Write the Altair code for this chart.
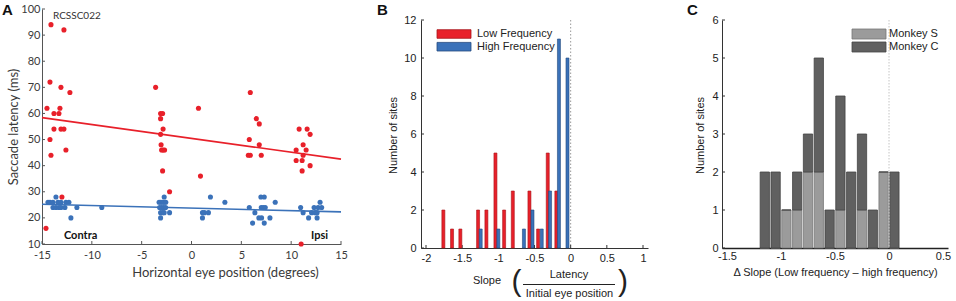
import altair as alt
import pandas as pd

# ---------------- Panel A data ----------------
low_x = [-14.1, -12.8, -14.2, -13.1, -12.2, -14.5, -13.2, -13.8, -13.3, -13.8, -13.1, -12.8,
         -14.2, -14.1, -12.6, -13.0, -14.6,
         -3.6, -3.1, -2.9, -3.1, -2.85, -3.1, -3.05, -3.0, -2.85, -2.7, -2.9, -2.2, 0.7, 0.9,
         5.9, 6.5, 6.8, 5.8, 6.8, 5.7, 5.9, 7.0,
         10.8, 11.6, 11.9, 11.2, 11.5, 10.5, 11.2, 10.5, 11.1, 11.9, 11.1, 11.0]
low_y = [94, 92, 72, 70, 68, 62, 62, 60, 60, 54, 54, 54,
         50, 44, 46, 28, 16,
         70, 60, 60, 58, 54, 52, 48, 46, 46, 46, 38, 30, 62, 36,
         68, 58, 56, 50, 48, 44, 44, 44,
         54, 54, 52, 48, 46, 46, 44, 42, 42, 40, 38, 10]
high_x = [-13.6, -14.4, -14.2, -13.9, -13.4, -13.1, -12.6, -12.3,
          -13.9, -13.6, -13.3, -13.1, -12.7, -11.5, -9.0, -12.1,
          -2.74, -3.25, -3.08, -2.9, -2.74, -2.58, -3.2, -3.0, -2.8, -2.6,
          -3.1, -2.9, -2.74, -2.2, -3.1,
          1.9, 3.35, 1.1, 1.3, 1.7, 1.1,
          6.96, 7.3, 8.4, 5.8, 7.0, 7.2, 7.4, 6.36, 6.76, 7.03, 7.87, 6.13, 7.3,
          12.9, 10.95, 12.3, 12.7, 13.06, 11.2, 12.05, 12.4, 12.6, 11.75, 12.6]
high_y = [28, 26, 26, 26, 26, 26, 26, 26,
          24, 24, 24, 24, 24, 24, 24, 20,
          28, 26, 26, 26, 26, 26, 24, 24, 24, 24,
          22, 22, 22, 22, 20,
          28, 26, 22, 22, 22, 20,
          28, 28, 26, 24, 24, 24, 24, 22, 20, 20, 20, 18, 18,
          26, 24, 24, 24, 24, 22, 22, 22, 22, 20, 20]
fit_x = [-15, 15]
low_fit = [58.4, 42.5]
high_fit = [25.2, 22.3]
a_xticks = [-15, -10, -5, 0, 5, 10, 15]
a_yticks = [10, 20, 30, 40, 50, 60, 70, 80, 90, 100]
a_notes = ["RCSSC022", "Contra", "Ipsi"]
a_notes_x = [-13.9, -12.8, 12.0]
a_notes_y = [97.4, 12.9, 12.9]

# ---------------- Panel B data ----------------
b_low_centers = [-1.76, -1.64, -1.525, -1.28, -1.165, -1.04, -0.92, -0.80, -0.57, -0.45, -0.317, -0.198]
b_low_counts = [2, 1, 1, 2, 2, 5, 2, 3, 3, 1, 5, 3]
b_high_centers = [-1.244, -1.0, -0.646, -0.528, -0.40, -0.285, -0.162, -0.044]
b_high_counts = [1, 1, 1, 2, 1, 3, 11, 10]
b_xticks = [-2, -1.5, -1, -0.5, 0, 0.5, 1]
b_yticks = [0, 2, 4, 6, 8, 10, 12]
b_legend = ["Low Frequency", "High Frequency"]

# ---------------- Panel C data ----------------
c_centers = [-1.15, -1.05, -0.95, -0.85, -0.75, -0.65, -0.55, -0.45, -0.35, -0.25, -0.15, -0.05, 0.05]
c_monkey_s = [0, 0, 1, 1, 2, 2, 0, 1, 0, 1, 0, 2, 0]
c_monkey_c = [2, 2, 0, 1, 1, 3, 1, 3, 2, 2, 1, 0, 2]
c_xticks = [-1.5, -1, -0.5, 0, 0.5]
c_yticks = [0, 1, 2, 3, 4, 5, 6]
c_legend = ["Monkey S", "Monkey C"]

RED = "#e8202a"
RED_EDGE = "#a8141a"
BLUE = "#3b72b9"
BLUE_EDGE = "#24497e"
GREY_L = "#9b9b9b"
GREY_L_EDGE = "#777777"
GREY_D = "#606060"
GREY_D_EDGE = "#444444"

FA = "Lato"
FB = "Liberation Sans"
TA = "#3a3a3a"
TB = "#222222"

# ======================= Panel A =======================
A_W, A_H = 299, 235
xa = alt.X("x:Q", scale=alt.Scale(domain=[-15, 15], range=[0, A_W], nice=False, zero=False),
           axis=alt.Axis(values=a_xticks, title="Horizontal eye position (degrees)",
                         titleX=183, titleY=28, titleBaseline="middle", titleAlign="center",
                         titleFont=FA, titleFontSize=13, titleFontWeight="normal", titleColor=TA,
                         labelFont=FA, labelFontSize=11, labelColor=TA, labelPadding=5,
                         labelFlush=False, labelOverlap=False,
                         labelExpr="'' + datum.value",
                         tickSize=0, domainColor="#555555", grid=False))
ya = alt.Y("y:Q", stack=None, scale=alt.Scale(domain=[10, 100], nice=False, zero=False),
           axis=alt.Axis(values=a_yticks, title="Saccade latency (ms)",
                         titleX=-29, titleY=A_H / 2, titleBaseline="middle", titleAlign="center",
                         titleFont=FA, titleFontSize=13, titleFontWeight="normal", titleColor=TA,
                         labelFont=FA, labelFontSize=11, labelColor=TA, labelPadding=2,
                         labelFlush=False, labelOverlap=False,
                         tickSize=0, domainColor="#555555", grid=False))
colA = alt.Color("s:N", scale=alt.Scale(domain=["Low", "High"], range=[RED, BLUE]), legend=None)

pts = pd.DataFrame({"x": low_x + high_x, "y": low_y + high_y,
                    "s": ["Low"] * len(low_x) + ["High"] * len(high_x)})
fits = pd.DataFrame({"x": fit_x + fit_x, "y": low_fit + high_fit,
                     "s": ["Low", "Low", "High", "High"]})

a_points = alt.Chart(pts).mark_circle(size=26, opacity=1).encode(x=xa, y=ya, color=colA)
a_lines = alt.Chart(fits).mark_line(strokeWidth=1.6).encode(x=xa, y=ya, color=colA, detail="s:N")
a_xt = alt.Chart(pd.DataFrame({"x": a_xticks})).mark_rule(color="#555555").encode(
    x=xa, y=alt.value(A_H), y2=alt.value(A_H - 3))
a_yt = alt.Chart(pd.DataFrame({"y": a_yticks})).mark_rule(color="#555555").encode(
    y=ya, x=alt.value(0), x2=alt.value(3))
notes = pd.DataFrame({"x": a_notes_x, "y": a_notes_y, "t": a_notes})
a_note1 = alt.Chart(notes.iloc[:1]).mark_text(font=FA, fontSize=10, color="#333333", align="left",
                                             baseline="middle").encode(x=xa, y=ya, text="t:N")
a_note2 = alt.Chart(notes.iloc[1:]).mark_text(font=FA, fontSize=11, fontWeight="bold", color="#111111",
                                             align="left", baseline="middle").encode(x=xa, y=ya, text="t:N")
a_letter = alt.Chart(pd.DataFrame({"t": ["A"]})).mark_text(
    font=FB, fontSize=15, fontWeight="bold", align="left", baseline="top", color="#111111").encode(
    text="t:N", x=alt.value(-40), y=alt.value(-6))

panelA = alt.layer(a_xt, a_yt, a_lines, a_points, a_note1, a_note2, a_letter).properties(
    width=A_W + 6, height=A_H)

# ======================= Panel B =======================
B_W, B_H = 227, 239
xb = alt.X("x:Q", scale=alt.Scale(domain=[-2, 1], nice=False, zero=False),
           axis=alt.Axis(values=b_xticks, title=None, labelFont=FB, labelFontSize=11, labelColor=TB,
                         labelPadding=4, labelExpr="'' + datum.value", tickSize=0,
                         labelFlush=False, labelOverlap=False,
                         domainColor="#333333", grid=False))
yb = alt.Y("y:Q", stack=None, scale=alt.Scale(domain=[0, 12], range=[B_H, 11], nice=False),
           axis=alt.Axis(values=b_yticks, title="Number of sites",
                         titleX=-28, titleY=126, titleBaseline="middle", titleAlign="center",
                         titleFont=FB, titleFontSize=11, titleFontWeight="normal", titleColor=TB,
                         labelFont=FB, labelFontSize=11, labelColor=TB, labelPadding=5,
                         labelFlush=False, labelOverlap=False,
                         tickSize=0, domainColor="#333333", grid=False))
bars_b = pd.DataFrame({"x": b_low_centers + b_high_centers, "y": b_low_counts + b_high_counts,
                       "s": ["Low"] * len(b_low_centers) + ["High"] * len(b_high_centers)})
b_bars = alt.Chart(bars_b).mark_bar(size=3, strokeWidth=0.6).encode(
    x=xb, y=yb,
    color=alt.Color("s:N", scale=alt.Scale(domain=["Low", "High"], range=[RED, BLUE]), legend=None),
    stroke=alt.Stroke("s:N", scale=alt.Scale(domain=["Low", "High"], range=[RED_EDGE, BLUE_EDGE]),
                      legend=None))
b_zero = alt.Chart(pd.DataFrame({"x": [0]})).mark_rule(color="#9a9a9a", strokeDash=[1.5, 2]).encode(
    x=xb, y=alt.value(11), y2=alt.value(B_H))
b_xt = alt.Chart(pd.DataFrame({"x": b_xticks})).mark_rule(color="#333333").encode(
    x=xb, y=alt.value(B_H), y2=alt.value(B_H - 3))
b_yt = alt.Chart(pd.DataFrame({"y": b_yticks})).mark_rule(color="#333333").encode(
    y=yb, x=alt.value(0), x2=alt.value(3))

b_leg = []
for i, (lab, fc, ec) in enumerate(zip(b_legend, [RED, BLUE], [RED_EDGE, BLUE_EDGE])):
    top = 20.7 + i * 12.7
    b_leg.append(alt.Chart(pd.DataFrame({"t": [lab]})).mark_rect(fill=fc, stroke=ec, strokeWidth=0.8).encode(
        x=alt.value(16), x2=alt.value(50), y=alt.value(top), y2=alt.value(top + 8.6)))
    b_leg.append(alt.Chart(pd.DataFrame({"t": [lab]})).mark_text(
        font=FB, fontSize=11, color=TB, align="left", baseline="middle").encode(
        text="t:N", x=alt.value(56), y=alt.value(top + 4.5)))

b_title_parts = []
b_title_parts.append(alt.Chart(pd.DataFrame({"t": ["Slope"]})).mark_text(
    font=FB, fontSize=11, color=TB, align="center", baseline="middle").encode(
    text="t:N", x=alt.value(66), y=alt.value(272)))
b_title_parts.append(alt.Chart(pd.DataFrame({"t": ["("]})).mark_text(
    font=FB, fontSize=30, color=TB, align="center", baseline="middle").encode(
    text="t:N", x=alt.value(95.5), y=alt.value(273)))
b_title_parts.append(alt.Chart(pd.DataFrame({"t": [")"]})).mark_text(
    font=FB, fontSize=30, color=TB, align="center", baseline="middle").encode(
    text="t:N", x=alt.value(202), y=alt.value(273)))
b_title_parts.append(alt.Chart(pd.DataFrame({"t": ["Latency"]})).mark_text(
    font=FB, fontSize=11, color=TB, align="center", baseline="middle").encode(
    text="t:N", x=alt.value(148), y=alt.value(266)))
b_title_parts.append(alt.Chart(pd.DataFrame({"t": ["Initial eye position"]})).mark_text(
    font=FB, fontSize=11, color=TB, align="center", baseline="middle").encode(
    text="t:N", x=alt.value(148.5), y=alt.value(284.5)))
b_title_parts.append(alt.Chart(pd.DataFrame({"t": ["line"]})).mark_rule(color=TB, strokeWidth=1).encode(
    x=alt.value(102), x2=alt.value(194), y=alt.value(275.5)))
b_letter = alt.Chart(pd.DataFrame({"t": ["B"]})).mark_text(
    font=FB, fontSize=15, fontWeight="bold", align="left", baseline="top", color="#111111").encode(
    text="t:N", x=alt.value(-44), y=alt.value(-6))

panelB = alt.layer(b_zero, b_xt, b_yt, b_bars, *b_leg, *b_title_parts, b_letter).properties(
    width=B_W, height=B_H)

# ======================= Panel C =======================
C_W, C_H = 226, 239
c_yscale = alt.Scale(domain=[0, 6], range=[C_H, 11], nice=False)
xc = alt.X("x:Q", scale=alt.Scale(domain=[-1.5, 0.5], nice=False, zero=False),
           axis=alt.Axis(values=c_xticks, title="\u0394 Slope (Low frequency \u2013 high frequency)",
                         titleX=113, titleY=24, titleBaseline="middle", titleAlign="center",
                         titleFont=FB, titleFontSize=11, titleFontWeight="normal", titleColor=TB,
                         labelFont=FB, labelFontSize=11, labelColor=TB, labelPadding=2,
                         labelFlush=False, labelOverlap=False,
                         labelExpr="'' + datum.value", tickSize=0,
                         domainColor="#222222", domainWidth=1.6, grid=False))
c_yaxis = alt.Axis(values=c_yticks, title="Number of sites",
                   titleX=-22, titleY=126, titleBaseline="middle", titleAlign="center",
                   titleFont=FB, titleFontSize=11, titleFontWeight="normal", titleColor=TB,
                   labelFont=FB, labelFontSize=11, labelColor=TB, labelPadding=4,
                   labelFlush=False, labelOverlap=False,
                   tickSize=0, domainColor="#333333", grid=False)
yc = alt.Y("y:Q", stack="zero", scale=c_yscale, axis=c_yaxis)
yc_plain = alt.Y("y:Q", stack=None, scale=c_yscale, axis=c_yaxis)
bars_c = pd.DataFrame({"x": c_centers + c_centers, "y": c_monkey_s + c_monkey_c,
                       "m": [c_legend[0]] * len(c_centers) + [c_legend[1]] * len(c_centers),
                       "o": [0] * len(c_centers) + [1] * len(c_centers)})
c_bars = alt.Chart(bars_c).mark_bar(size=9.3, strokeWidth=0.8).encode(
    x=xc, y=yc, order=alt.Order("o:Q", sort="ascending"),
    color=alt.Color("m:N", scale=alt.Scale(domain=c_legend, range=[GREY_L, GREY_D]), legend=None),
    stroke=alt.Stroke("m:N", scale=alt.Scale(domain=c_legend, range=[GREY_L_EDGE, GREY_D_EDGE]),
                      legend=None))
c_zero = alt.Chart(pd.DataFrame({"x": [0]})).mark_rule(color="#c4c4c4", strokeDash=[1.5, 1.5]).encode(
    x=xc, y=alt.value(11), y2=alt.value(C_H))
c_yt = alt.Chart(pd.DataFrame({"y": c_yticks})).mark_rule(color="#333333").encode(
    y=yc_plain, x=alt.value(0), x2=alt.value(3))

c_leg = []
for i, (lab, fc, ec) in enumerate(zip(c_legend, [GREY_L, GREY_D], [GREY_L_EDGE, GREY_D_EDGE])):
    top = 20 + i * 13
    c_leg.append(alt.Chart(pd.DataFrame({"t": [lab]})).mark_rect(fill=fc, stroke=ec, strokeWidth=0.8).encode(
        x=alt.value(130), x2=alt.value(164), y=alt.value(top), y2=alt.value(top + 10)))
    c_leg.append(alt.Chart(pd.DataFrame({"t": [lab]})).mark_text(
        font=FB, fontSize=11, color=TB, align="left", baseline="middle").encode(
        text="t:N", x=alt.value(167), y=alt.value(top + 5)))
c_letter = alt.Chart(pd.DataFrame({"t": ["C"]})).mark_text(
    font=FB, fontSize=15, fontWeight="bold", align="left", baseline="top", color="#111111").encode(
    text="t:N", x=alt.value(-35), y=alt.value(-6))

panelC = alt.layer(c_yt, c_bars, c_zero, *c_leg, c_letter).properties(width=C_W, height=C_H)

chart = alt.hconcat(panelA, panelB, panelC, spacing=74, bounds="flush").resolve_scale(
    color="independent", stroke="independent"
).properties(
    padding={"left": 2, "top": 3, "right": 2, "bottom": 2}
).configure_view(stroke=None)

chart.save("out.html", embed_options={"renderer": "svg", "actions": False})
